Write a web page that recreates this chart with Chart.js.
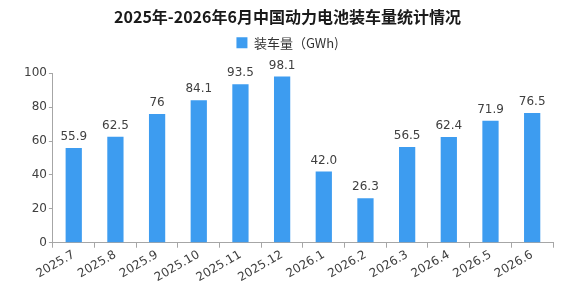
<!DOCTYPE html>
<html>
<head>
<meta charset="utf-8">
<script src="https://cdn.jsdelivr.net/npm/chart.js@4"></script>
<style>
  html, body { margin: 0; padding: 0; background: #fff; }
  #wrap { width: 572px; height: 291px; }
</style>
</head>
<body>
<div id="wrap"><canvas id="chart"></canvas></div>
<script>
const months = ["2025.7", "2025.8", "2025.9", "2025.10", "2025.11", "2025.12",
  "2026.1", "2026.2", "2026.3", "2026.4", "2026.5", "2026.6"];
const volumes = [55.9, 62.5, 76, 84.1, 93.5, 98.1, 42.0, 26.3, 56.5, 62.4, 71.9, 76.5];
const volumeLabels = ["55.9", "62.5", "76", "84.1", "93.5", "98.1", "42.0", "26.3", "56.5", "62.4", "71.9", "76.5"];
const yTicks = [0, 20, 40, 60, 80, 100];

const FONT = "'DejaVu Sans', 'Noto Sans CJK SC', sans-serif";

// draws the value above each bar
const valueLabels = {
  id: "valueLabels",
  afterDatasetsDraw(chart) {
    const ctx = chart.ctx;
    const meta = chart.getDatasetMeta(0);
    ctx.save();
    ctx.font = "12px " + FONT;
    ctx.fillStyle = "#404040";
    ctx.textAlign = "center";
    ctx.textBaseline = "bottom";
    meta.data.forEach((bar, i) => {
      ctx.fillText(volumeLabels[i], bar.x, bar.y - 5);
    });
    ctx.restore();
  }
};

// leave room between legend and plot for the labels on tall bars
const legendGap = {
  id: "legendGap",
  beforeInit(chart) {
    const fit = chart.legend.fit;
    chart.legend.fit = function () {
      fit.call(this);
      this.height += 14;
    };
  }
};

new Chart(document.getElementById("chart"), {
  type: "bar",
  data: {
    labels: months,
    datasets: [{
      label: "装车量（GWh)",
      data: volumes,
      backgroundColor: "#3d9cf0",
      borderWidth: 0,
      categoryPercentage: 1,
      barPercentage: 0.39
    }]
  },
  options: {
    responsive: true,
    maintainAspectRatio: false,
    animation: false,
    layout: { padding: { left: 22, right: 19, top: 5, bottom: 6 } },
    plugins: {
      title: {
        display: true,
        text: "2025年-2026年6月中国动力电池装车量统计情况",
        color: "#1a1a1a",
        font: { size: 16, weight: "bold", family: "'Noto Sans CJK SC', sans-serif" },
        padding: { top: 2, bottom: 6 }
      },
      legend: {
        display: true,
        labels: {
          color: "#333",
          font: { size: 13, family: "'Noto Sans CJK SC', sans-serif" },
          boxWidth: 11,
          boxHeight: 11,
          padding: 4
        }
      },
      tooltip: { enabled: false }
    },
    scales: {
      x: {
        grid: {
          display: true,
          offset: true,
          drawOnChartArea: false,
          drawTicks: true,
          tickLength: 5,
          color: "#a6a6a6"
        },
        border: { color: "#a6a6a6", width: 1 },
        ticks: {
          color: "#404040",
          font: { size: 12, family: FONT },
          minRotation: 30,
          maxRotation: 30,
          padding: 0
        }
      },
      y: {
        min: 0,
        max: 100,
        afterBuildTicks(axis) { axis.ticks = yTicks.map(v => ({ value: v })); },
        grid: {
          display: true,
          drawOnChartArea: false,
          drawTicks: true,
          tickLength: 4,
          color: "#a6a6a6"
        },
        border: { color: "#a6a6a6", width: 1 },
        ticks: {
          color: "#404040",
          font: { size: 12, family: FONT },
          padding: 2
        }
      }
    }
  },
  plugins: [valueLabels, legendGap]
});
</script>
</body>
</html>
